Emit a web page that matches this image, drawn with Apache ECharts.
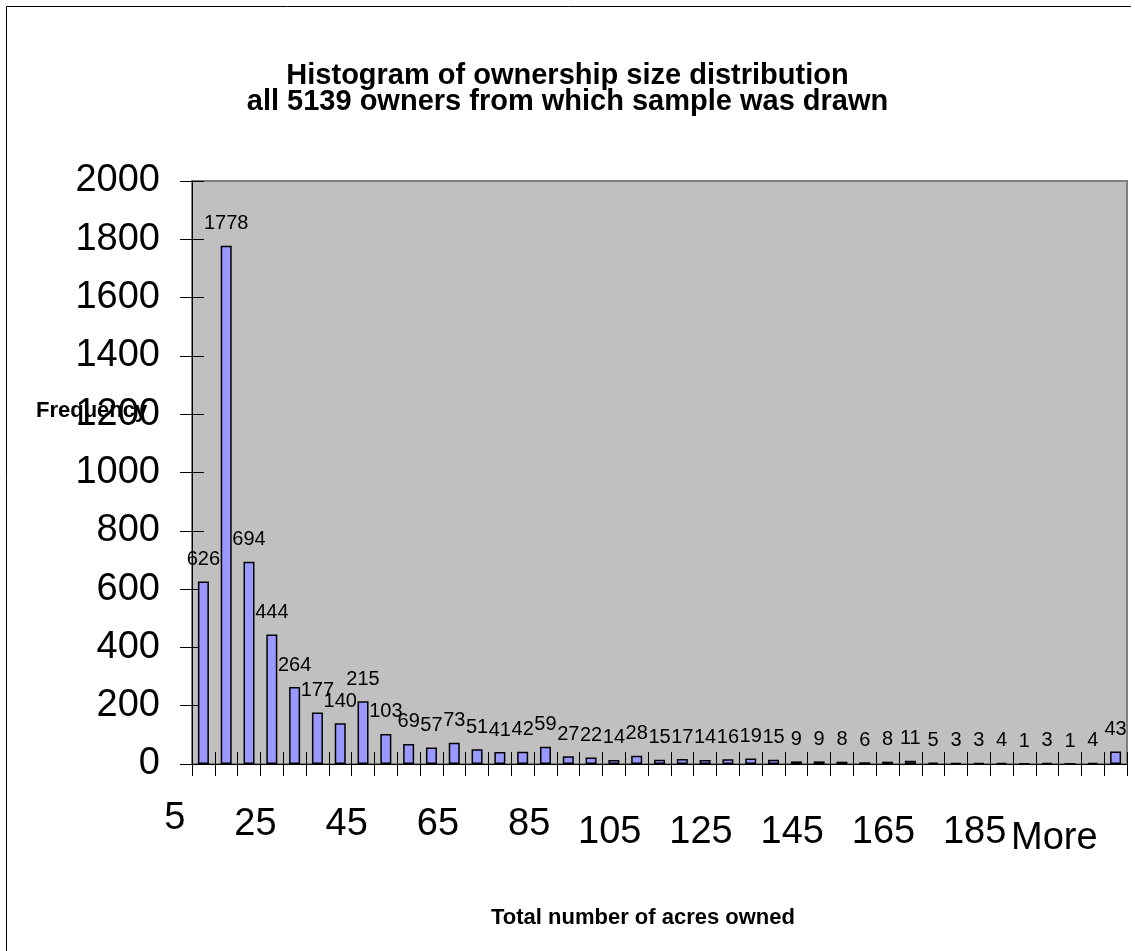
<!DOCTYPE html>
<html>
<head>
<meta charset="utf-8">
<script src="https://cdn.jsdelivr.net/npm/echarts@6/dist/echarts.min.js"></script>
<style>
  html, body { margin: 0; padding: 0; background: #fff; }
  #chart { width: 1135px; height: 951px; }
</style>
</head>
<body>
<div id="chart"></div>
<script>
// Bin upper limits (acres) and owner counts per bin
const binLabels = [
  '5', '10', '15', '20', '25', '30', '35', '40', '45', '50',
  '55', '60', '65', '70', '75', '80', '85', '90', '95', '100',
  '105', '110', '115', '120', '125', '130', '135', '140', '145', '150',
  '155', '160', '165', '170', '175', '180', '185', '190', '195', '200',
  'More'
];
const frequencies = [
  626, 1778, 694, 444, 264, 177, 140, 215, 103, 69,
  57, 73, 51, 41, 42, 59, 27, 22, 14, 28,
  15, 17, 14, 16, 19, 15, 9, 9, 8, 6,
  8, 11, 5, 3, 3, 4, 1, 3, 1, 4,
  43
];
const chartTitle = 'Histogram of ownership size distribution\nall 5139 owners from which sample was drawn';
const xTitle = 'Total number of acres owned';
const yTitle = 'Frequency';

const FONT = '"Liberation Sans", Arial, sans-serif';

// Staggered vertical drop of the category labels, by label index
const labelDrop = { 0: 6, 4: 18, 8: 18, 12: 18, 16: 18, 20: 34, 24: 34, 28: 34, 32: 34, 36: 34, 40: 45 };
const rich = {};
Object.keys(labelDrop).forEach(function (k) {
  rich['t' + k] = {
    fontSize: 38,
    fontFamily: FONT,
    color: '#000',
    lineHeight: 38,
    padding: [labelDrop[k], 0, 0, 0]
  };
});

const chart = echarts.init(document.getElementById('chart'), null, { renderer: 'canvas' });

const option = {
  backgroundColor: '#fff',
  animation: false,
  title: [
    {
      text: chartTitle,
      left: 'center',
      top: 58,
      textStyle: { fontFamily: FONT, fontSize: 29, fontWeight: 'bold', color: '#000', lineHeight: 26 }
    },
    {
      text: xTitle,
      left: 486,
      top: 902,
      textStyle: { fontFamily: FONT, fontSize: 22, fontWeight: 'bold', color: '#000' }
    },
    {
      text: yTitle,
      left: 31,
      top: 395,
      textStyle: { fontFamily: FONT, fontSize: 22, fontWeight: 'bold', color: '#000' }
    }
  ],
  graphic: [
    {
      type: 'polyline',
      shape: { points: [[6.5, 960], [6.5, 6.5], [1131, 6.5]] },
      style: { stroke: '#000', lineWidth: 1, fill: null },
      silent: true
    }
  ],
  grid: {
    left: 192,
    top: 181,
    right: 8,
    bottom: 187,
    outerBoundsMode: 'none',
    containLabel: false,
    show: true,
    backgroundColor: '#C0C0C0',
    borderColor: '#808080',
    borderWidth: 2
  },
  xAxis: [
    {
      type: 'category',
      data: binLabels,
      position: 'bottom',
      axisLine: { show: true, lineStyle: { color: '#000', width: 1 } },
      axisTick: { show: true, inside: false, length: 12, interval: 0, lineStyle: { color: '#000' } },
      axisLabel: {
        interval: 3,
        margin: 33,
        align: 'right',
        padding: [0, 18, 0, 0],
        showMinLabel: true,
        showMaxLabel: true,
        hideOverlap: false,
        formatter: function (value, index) { return '{t' + index + '|' + value + '}'; },
        rich: rich
      },
      splitLine: { show: false }
    },
    {
      type: 'category',
      data: binLabels,
      position: 'bottom',
      axisLine: { show: false },
      axisTick: { show: true, inside: true, length: 12, interval: 0, lineStyle: { color: '#000' } },
      axisLabel: { show: false },
      splitLine: { show: false }
    }
  ],
  yAxis: [
    {
      type: 'value',
      min: 0,
      max: 2000,
      interval: 200,
      position: 'left',
      axisLine: { show: true, lineStyle: { color: '#000', width: 1 } },
      axisTick: { show: true, inside: false, length: 12, lineStyle: { color: '#000' } },
      axisLabel: {
        fontFamily: FONT, fontSize: 38, color: '#000', margin: 32,
        formatter: function (v) { return String(v); }
      },
      splitLine: { show: false }
    },
    {
      type: 'value',
      min: 0,
      max: 2000,
      interval: 200,
      position: 'left',
      axisLine: { show: false },
      axisTick: { show: true, inside: true, length: 12, lineStyle: { color: '#000' } },
      axisLabel: { show: false },
      splitLine: { show: false }
    }
  ],
  series: [
    {
      type: 'bar',
      xAxisIndex: 0,
      yAxisIndex: 0,
      data: frequencies,
      barWidth: 11,
      itemStyle: { color: '#9999FF', borderColor: '#000', borderWidth: 1.5 },
      label: {
        show: true,
        position: 'top',
        distance: 12,
        fontFamily: FONT,
        fontSize: 20,
        color: '#000'
      }
    }
  ]
};

chart.setOption(option);
</script>
</body>
</html>
